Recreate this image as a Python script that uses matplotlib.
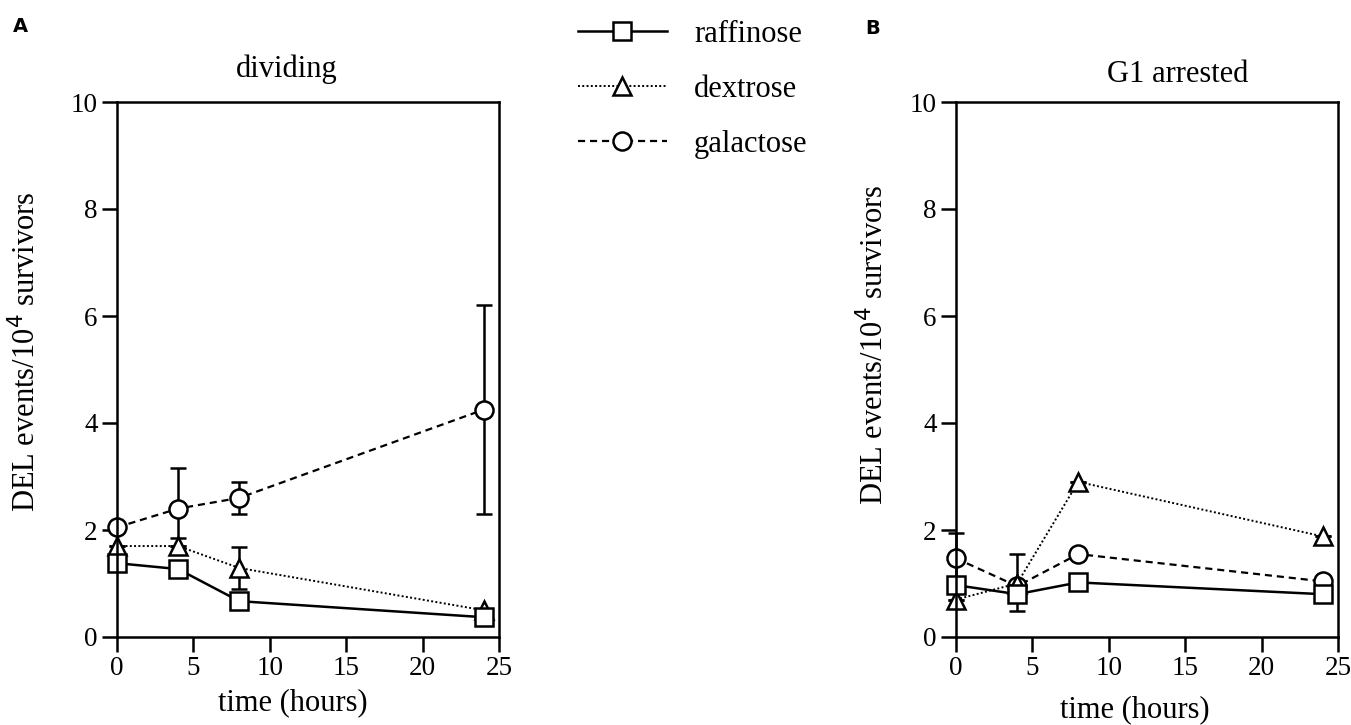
import matplotlib
matplotlib.use("Agg")
import matplotlib.pyplot as plt
import numpy as np

plt.rcParams["font.family"] = ["Liberation Serif", "DejaVu Serif"]

hours = [0, 4, 8, 24]

# panel A: dividing
div_raffinose = [1.38, 1.27, 0.67, 0.37]
div_dextrose = [1.70, 1.70, 1.29, 0.50]
div_galactose = [2.05, 2.40, 2.60, 4.25]
div_raffinose_err = [[0, 0, 0, 0], [0, 0, 0, 0]]
div_dextrose_err = [[0, 0, 0.40, 0], [0, 0, 0.40, 0]]
div_galactose_err = [[0, 0.55, 0.30, 1.95], [0, 0.75, 0.30, 1.95]]

# panel B: G1 arrested
g1_raffinose = [0.97, 0.80, 1.02, 0.80]
g1_dextrose = [0.70, 1.00, 2.90, 1.88]
g1_galactose = [1.47, 0.95, 1.55, 1.04]
g1_raffinose_err = [[0, 0, 0, 0], [0, 0, 0, 0]]
g1_dextrose_err = [[0, 0.52, 0, 0], [0, 0.55, 0, 0]]
g1_galactose_err = [[0.48, 0, 0, 0], [0.48, 0, 0, 0]]

W, H = 1351, 725
fig = plt.figure(figsize=(W / 100, H / 100), dpi=100)


def px_axes(x0, x1, y_top, y_bot):
    return fig.add_axes([x0 / W, 1 - y_bot / H, (x1 - x0) / W, (y_bot - y_top) / H])


def fig_text(x, y, s, **kw):
    return fig.text(x / W, 1 - y / H, s, ha="center", va="center", **kw)


styles = {
    "raffinose": dict(marker="s", linestyle="-", lw=1.8),
    "dextrose": dict(marker="^", linestyle=(0, (1.0, 1.2)), lw=1.4),
    "galactose": dict(marker="o", linestyle=(0, (3.2, 2.2)), lw=1.6),
}


def draw_panel(ax, series):
    handles = {}
    for name, y, err in series:
        st = styles[name]
        eb = ax.errorbar(hours, y, yerr=err, color="black", marker=st["marker"],
                         linestyle=st["linestyle"], lw=st["lw"], markersize=13,
                         markerfacecolor="white", markeredgecolor="black",
                         markeredgewidth=1.8, elinewidth=1.8, capsize=6, capthick=1.8,
                         clip_on=False)
        for a in list(eb.lines[1]) + list(eb.lines[2]):
            a.set_clip_on(False)
        handles[name] = eb.lines[0]
    ax.set_xlim(0, 25)
    ax.set_ylim(0, 10)
    ax.set_xticks([0, 5, 10, 15, 20, 25])
    ax.set_yticks([0, 2, 4, 6, 8, 10])
    ax.tick_params(direction="out", length=11, width=1.8, labelsize=19.5, pad=3)
    for s in ax.spines.values():
        s.set_linewidth(1.8)
    return handles


order = ["galactose", "dextrose", "raffinose"]

ax1 = px_axes(117, 499, 102, 637)
h = draw_panel(ax1, zip(order, [div_galactose, div_dextrose, div_raffinose],
                        [div_galactose_err, div_dextrose_err, div_raffinose_err]))

ax2 = px_axes(956, 1338, 102, 637)
draw_panel(ax2, zip(order, [g1_galactose, g1_dextrose, g1_raffinose],
                    [g1_galactose_err, g1_dextrose_err, g1_raffinose_err]))

ylab = "DEL events/10$^4$ survivors"
fig_text(26, 352, ylab, fontsize=22, rotation=90)
fig_text(874, 345, ylab, fontsize=22, rotation=90)
fig_text(293, 703, "time (hours)", fontsize=22)
fig_text(1135, 710, "time (hours)", fontsize=22)
fig_text(287, 69, "dividing", fontsize=22)
fig_text(1178, 74, "G1 arrested", fontsize=22)

fig_text(20, 27, "A", fontsize=14, fontweight="bold", family="DejaVu Sans")
fig_text(873, 28, "B", fontsize=14, fontweight="bold", family="DejaVu Sans")

names = ["raffinose", "dextrose", "galactose"]
fig.legend([h[n] for n in names], names,
           loc="upper left", bbox_to_anchor=(578 / W, 1 - 20 / H),
           frameon=False, fontsize=22, handlelength=2.9, handletextpad=0.9,
           labelspacing=0.85, borderpad=0, borderaxespad=0, numpoints=1)

fig.savefig("out.png", dpi=100)
